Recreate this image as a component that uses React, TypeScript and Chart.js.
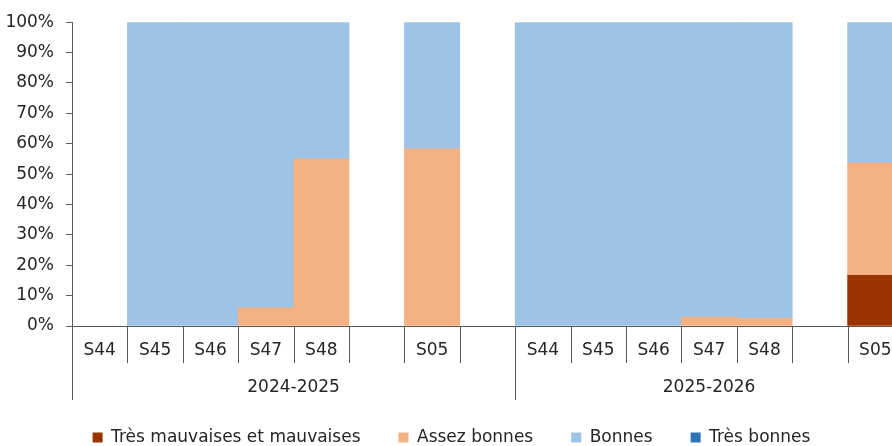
import React, { useEffect, useRef } from "react";
import { Chart, registerables } from "chart.js";

Chart.register(...registerables);

const categories = ["S44", "S45", "S46", "S47", "S48", "", "S05", "", "S44", "S45", "S46", "S47", "S48", "", "S05"];
const groups = ["2024-2025", "2025-2026"];
const groupSizes = [8, 7];

const tresMauvaises = [0, 0, 0, 0, 0, null, 0, null, 0, 0, 0, 0, 0, null, 16.7];
const assezBonnes = [0, 0, 0, 6, 55, null, 58.3, null, 0, 0, 0, 2.9, 2.6, null, 37.0];
const bonnes = [0, 100, 100, 94, 45, null, 41.7, null, 100, 100, 100, 97.1, 97.4, null, 46.3];
const tresBonnes = [0, 0, 0, 0, 0, null, 0, null, 0, 0, 0, 0, 0, null, 0];

const FONT = "'DejaVu Sans', sans-serif";
const FSIZE = 17;
const TEXT = "#262626";
const AXIS = "#595959";

// zero-height segments are left out so they do not leave a hairline at 0%
const skipZero = (arr: (number | null)[]) => arr.map((v) => (v === 0 ? null : v));

const groupAxisPlugin = {
  id: "groupAxis",
  afterDraw(chart: any) {
    const x = chart.scales.x;
    const ctx = chart.ctx;
    const n = categories.length;
    const w = (x.right - x.left) / n;
    const bottom = x.top;
    const shortLen = 37;
    const longLen = 74;
    const groupStarts: number[] = [];
    let acc = 0;
    groupSizes.forEach((s) => {
      groupStarts.push(acc);
      acc += s;
    });
    ctx.save();
    ctx.strokeStyle = AXIS;
    ctx.lineWidth = 1;
    for (let i = 0; i < n; i++) {
      const px = Math.round(x.left + i * w) + 0.5;
      const isGroup = groupStarts.includes(i);
      ctx.beginPath();
      ctx.moveTo(px, bottom);
      ctx.lineTo(px, bottom + (isGroup ? longLen : shortLen));
      ctx.stroke();
    }
    ctx.fillStyle = TEXT;
    ctx.font = `${FSIZE}px ${FONT}`;
    ctx.textAlign = "center";
    ctx.textBaseline = "middle";
    groups.forEach((g, gi) => {
      const start = groupStarts[gi];
      const end = start + groupSizes[gi];
      const cx = x.left + ((start + end) / 2) * w;
      ctx.fillText(g, cx, bottom + 62);
    });
    ctx.restore();
  },
};

export default function App() {
  const ref = useRef<HTMLCanvasElement>(null);
  useEffect(() => {
    if (!ref.current) return;
    const chart = new Chart(ref.current, {
      type: "bar",
      data: {
        labels: categories,
        datasets: [
          { label: "Très mauvaises et mauvaises", data: skipZero(tresMauvaises), backgroundColor: "#993300" },
          { label: "Assez bonnes", data: skipZero(assezBonnes), backgroundColor: "#F4B183" },
          { label: "Bonnes", data: skipZero(bonnes), backgroundColor: "#9DC3E6" },
          { label: "Très bonnes", data: skipZero(tresBonnes), backgroundColor: "#2E75B6" },
        ],
      },
      options: {
        responsive: false,
        animation: false,
        datasets: { bar: { categoryPercentage: 1, barPercentage: 1, borderWidth: 0 } },
        layout: { padding: { top: 20, right: 3, left: 0, bottom: 0 } },
        plugins: {
          legend: {
            position: "bottom",
            labels: {
              boxWidth: 10,
              boxHeight: 10,
              padding: 38,
              color: TEXT,
              font: { family: FONT, size: FSIZE },
            },
          },
          tooltip: { enabled: false },
        },
        scales: {
          x: {
            stacked: true,
            grid: { display: false },
            border: { display: true, color: AXIS, width: 1 },
            ticks: { color: TEXT, font: { family: FONT, size: FSIZE }, padding: 6, maxRotation: 0, autoSkip: false },
            afterFit(scale: any) {
              scale.height = 65;
            },
          },
          y: {
            stacked: true,
            min: 0,
            max: 100,
            ticks: {
              stepSize: 10,
              color: TEXT,
              font: { family: FONT, size: FSIZE },
              padding: 12,
              callback: (v: any) => v + "%",
            },
            grid: { drawOnChartArea: false, drawTicks: true, tickLength: 6, color: AXIS },
            border: { display: true, color: AXIS, width: 1 },
            afterFit(scale: any) {
              scale.width = 72;
            },
          },
        },
      },
      plugins: [groupAxisPlugin],
    });
    return () => chart.destroy();
  }, []);
  return (
    <div style={{ position: "fixed", left: 0, top: 0, width: 892, height: 446, overflow: "hidden", background: "#fff" }}>
      <canvas ref={ref} width={906} height={456} style={{ display: "block" }} />
    </div>
  );
}
